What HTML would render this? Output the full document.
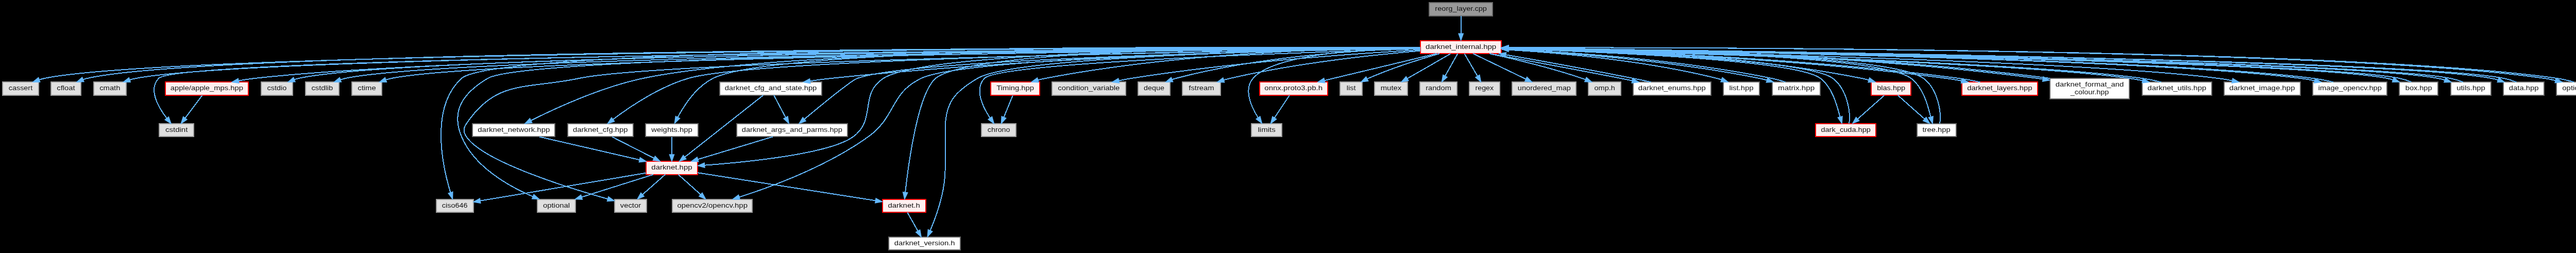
<!DOCTYPE html>
<html><head><meta charset="utf-8"><title>reorg_layer.cpp</title><style>
html,body{margin:0;padding:0;background:#000;width:5086px;height:491px;overflow:hidden}
svg{display:block;position:absolute;left:0;top:0;will-change:transform}
text{font-family:"Liberation Sans",sans-serif;font-size:10.25px;fill:#111;text-anchor:middle}
.e{fill:none;stroke:#63b8ff;stroke-width:1.5;shape-rendering:crispEdges}
.a{fill:#63b8ff;stroke:#63b8ff;stroke-width:1;shape-rendering:geometricPrecision}
polygon{stroke-width:1.5;shape-rendering:crispEdges}
</style></head><body>
<svg width="5086" height="491" viewBox="0 0 3814.50 368.25">
<g transform="translate(4 364)">
<polygon fill="#999999" stroke="#666666" points="2168.75,-360.00 2076.75,-360.00 2076.75,-341.00 2168.75,-341.00 2168.75,-360.00"/>
<text x="2122.75" y="-348" lengthAdjust="spacingAndGlyphs" textLength="75.49">reorg_layer.cpp</text>
<polygon fill="#fff0f0" stroke="red" points="2181.75,-305.00 2063.75,-305.00 2063.75,-286.00 2181.75,-286.00 2181.75,-305.00"/>
<text x="2122.75" y="-293" lengthAdjust="spacingAndGlyphs" textLength="102.87">darknet_internal.hpp</text>
<path class="e" d="M2122.75,-340.75C2122.75,-333.80 2122.75,-323.85 2122.75,-315.13"/>
<polygon class="a" points="2126.25,-315.09 2122.75,-305.09 2119.25,-315.09 2126.25,-315.09"/>
<polygon fill="#e0e0e0" stroke="#999999" points="52.00,-244.50 0.00,-244.50 0.00,-225.50 52.00,-225.50 52.00,-244.50"/>
<text x="26.00" y="-232.5" lengthAdjust="spacingAndGlyphs" textLength="34.73">cassert</text>
<path class="e" d="M2063.71,-294.48C1747.47,-294.23 261.47,-290.84 61.01,-250.00 58.49,-249.49 55.90,-248.80 53.35,-248.00"/>
<polygon class="a" points="54.38,-244.65 43.78,-244.54 52.00,-251.24 54.38,-244.65"/>
<polygon fill="#e0e0e0" stroke="#999999" points="114.00,-244.50 70.00,-244.50 70.00,-225.50 114.00,-225.50 114.00,-244.50"/>
<text x="92.00" y="-232.5" lengthAdjust="spacingAndGlyphs" textLength="26.46">cfloat</text>
<path class="e" d="M2063.68,-294.59C1753.05,-294.88 316.15,-293.83 123.01,-250.00 121.07,-249.56 119.09,-248.99 117.13,-248.34"/>
<polygon class="a" points="118.25,-245.02 107.66,-244.54 115.64,-251.51 118.25,-245.02"/>
<polygon fill="#e0e0e0" stroke="#999999" points="179.50,-244.50 132.50,-244.50 132.50,-225.50 179.50,-225.50 179.50,-244.50"/>
<text x="156.00" y="-232.5" lengthAdjust="spacingAndGlyphs" textLength="30.12">cmath</text>
<path class="e" d="M2063.34,-294.29C1758.90,-293.07 381.16,-285.60 194.01,-250.00 191.00,-249.43 187.91,-248.64 184.85,-247.74"/>
<polygon class="a" points="185.97,-244.42 175.37,-244.53 183.72,-251.05 185.97,-244.42"/>
<polygon fill="#e0e0e0" stroke="#999999" points="278.00,-184.00 228.00,-184.00 228.00,-165.00 278.00,-165.00 278.00,-184.00"/>
<text x="253.00" y="-172" lengthAdjust="spacingAndGlyphs" textLength="32.51">cstdint</text>
<path class="e" d="M2063.50,-294.24C1746.05,-292.69 259.92,-283.64 227.02,-250.00 211.51,-234.14 225.99,-208.57 238.74,-191.90"/>
<polygon class="a" points="241.49,-194.06 245.08,-184.09 236.06,-189.65 241.49,-194.06"/>
<polygon fill="#fff0f0" stroke="red" points="357.50,-244.50 236.50,-244.50 236.50,-225.50 357.50,-225.50 357.50,-244.50"/>
<text x="297.00" y="-232.5" lengthAdjust="spacingAndGlyphs" textLength="105.89">apple/apple_mps.hpp</text>
<path class="e" d="M2063.69,-294.37C1797.34,-293.56 706.60,-287.96 367.02,-250.00 359.39,-249.15 351.36,-247.89 343.56,-246.47"/>
<polygon class="a" points="343.99,-242.99 333.51,-244.54 342.66,-249.86 343.99,-242.99"/>
<polygon fill="#e0e0e0" stroke="#999999" points="422.00,-244.50 376.00,-244.50 376.00,-225.50 422.00,-225.50 422.00,-244.50"/>
<text x="399.00" y="-232.5" lengthAdjust="spacingAndGlyphs" textLength="28.37">cstdio</text>
<path class="e" d="M2063.34,-294.29C1782.19,-293.11 592.68,-286.03 431.01,-250.00 428.93,-249.54 426.82,-248.94 424.71,-248.24"/>
<polygon class="a" points="425.78,-244.90 415.20,-244.53 423.25,-251.42 425.78,-244.90"/>
<polygon fill="#e0e0e0" stroke="#999999" points="489.50,-244.50 440.50,-244.50 440.50,-225.50 489.50,-225.50 489.50,-244.50"/>
<text x="465.00" y="-232.5" lengthAdjust="spacingAndGlyphs" textLength="31.38">cstdlib</text>
<path class="e" d="M2063.48,-294.14C1789.65,-292.33 654.11,-282.88 499.01,-250.00 496.64,-249.50 494.22,-248.84 491.82,-248.07"/>
<polygon class="a" points="492.85,-244.71 482.26,-244.52 490.42,-251.29 492.85,-244.71"/>
<polygon fill="#e0e0e0" stroke="#999999" points="552.00,-244.50 508.00,-244.50 508.00,-225.50 552.00,-225.50 552.00,-244.50"/>
<text x="530.00" y="-232.5" lengthAdjust="spacingAndGlyphs" textLength="26.59">ctime</text>
<path class="e" d="M2063.74,-294.00C1797.43,-291.60 714.59,-280.06 566.01,-250.00 563.33,-249.46 560.59,-248.73 557.87,-247.90"/>
<polygon class="a" points="558.91,-244.56 548.32,-244.52 556.58,-251.15 558.91,-244.56"/>
<polygon fill="#e0e0e0" stroke="#999999" points="685.00,-74.00 631.00,-74.00 631.00,-55.00 685.00,-55.00 685.00,-74.00"/>
<text x="658.00" y="-62" lengthAdjust="spacingAndGlyphs" textLength="37.19">ciso646</text>
<path class="e" d="M2063.63,-294.80C1797.39,-295.89 720.78,-297.36 668.05,-250.00 621.13,-207.81 640.35,-121.61 651.79,-83.88"/>
<polygon class="a" points="655.17,-84.80 654.88,-74.21 648.51,-82.67 655.17,-84.80"/>
<polygon fill="#e0e0e0" stroke="#999999" points="834.00,-74.00 778.00,-74.00 778.00,-55.00 834.00,-55.00 834.00,-74.00"/>
<text x="806.00" y="-62" lengthAdjust="spacingAndGlyphs" textLength="39.03">optional</text>
<path class="e" d="M2063.37,-294.24C1802.04,-292.90 765.12,-285.34 706.05,-250.00 670.51,-228.73 651.99,-203.16 668.00,-165.00 686.51,-120.87 736.86,-92.75 771.34,-78.04"/>
<polygon class="a" points="773.11,-81.10 781.04,-74.08 770.46,-74.62 773.11,-81.10"/>
<polygon fill="#e0e0e0" stroke="#999999" points="937.50,-74.00 890.50,-74.00 890.50,-55.00 937.50,-55.00 937.50,-74.00"/>
<text x="914.00" y="-62" lengthAdjust="spacingAndGlyphs" textLength="30.22">vector</text>
<path class="e" d="M2063.72,-293.66C1827.75,-290.12 959.59,-275.49 839.07,-250.00 762.13,-233.73 719.01,-249.11 675.00,-184.00 670.27,-177.00 670.31,-172.03 675.00,-165.00 698.87,-129.21 820.68,-91.31 880.61,-74.47"/>
<polygon class="a" points="881.66,-77.81 890.36,-71.76 879.78,-71.06 881.66,-77.81"/>
<polygon fill="white" stroke="#666666" points="804.00,-184.00 684.00,-184.00 684.00,-165.00 804.00,-165.00 804.00,-184.00"/>
<text x="744.00" y="-172" lengthAdjust="spacingAndGlyphs" textLength="105.11">darknet_network.hpp</text>
<path class="e" d="M2063.59,-294.93C1854.56,-296.04 1151.77,-296.18 932.09,-250.00 871.12,-237.18 804.35,-206.38 769.09,-188.65"/>
<polygon class="a" points="770.51,-185.45 760.01,-184.03 767.33,-191.68 770.51,-185.45"/>
<polygon fill="white" stroke="#666666" points="917.50,-184.00 822.50,-184.00 822.50,-165.00 917.50,-165.00 917.50,-184.00"/>
<text x="870.00" y="-172" lengthAdjust="spacingAndGlyphs" textLength="79.87">darknet_cfg.hpp</text>
<path class="e" d="M2063.68,-293.83C1846.59,-291.14 1100.54,-279.81 998.07,-250.00 955.56,-237.63 912.34,-208.25 888.58,-190.30"/>
<polygon class="a" points="890.52,-187.38 880.46,-184.04 886.24,-192.92 890.52,-187.38"/>
<polygon fill="white" stroke="#666666" points="1012.00,-184.00 936.00,-184.00 936.00,-165.00 1012.00,-165.00 1012.00,-184.00"/>
<text x="974.00" y="-172" lengthAdjust="spacingAndGlyphs" textLength="59.64">weights.hpp</text>
<path class="e" d="M2063.66,-294.92C1850.08,-296.04 1126.12,-296.34 1034.05,-250.00 1010.00,-237.89 992.33,-211.27 982.61,-193.36"/>
<polygon class="a" points="985.72,-191.75 978.04,-184.45 979.49,-194.94 985.72,-191.75"/>
<polygon fill="white" stroke="#666666" points="1192.50,-244.50 1043.50,-244.50 1043.50,-225.50 1192.50,-225.50 1192.50,-244.50"/>
<text x="1118.00" y="-232.5" lengthAdjust="spacingAndGlyphs" textLength="134.01">darknet_cfg_and_state.hpp</text>
<path class="e" d="M2063.64,-293.86C1917.64,-291.80 1528.60,-283.36 1206.03,-250.00 1196.10,-248.97 1185.58,-247.57 1175.40,-246.06"/>
<polygon class="a" points="1175.80,-242.58 1165.38,-244.51 1174.72,-249.49 1175.80,-242.58"/>
<polygon fill="white" stroke="#666666" points="1229.50,-184.00 1068.50,-184.00 1068.50,-165.00 1229.50,-165.00 1229.50,-184.00"/>
<text x="1149.00" y="-172" lengthAdjust="spacingAndGlyphs" textLength="146.30">darknet_args_and_parms.hpp</text>
<path class="e" d="M2063.53,-293.57C1878.65,-290.38 1320.34,-278.48 1244.07,-250.00 1235.24,-246.70 1191.94,-211.33 1166.94,-190.53"/>
<polygon class="a" points="1169.16,-187.83 1159.24,-184.11 1164.68,-193.20 1169.16,-187.83"/>
<polygon fill="#fff0f0" stroke="red" points="1011.50,-129.00 936.50,-129.00 936.50,-110.00 1011.50,-110.00 1011.50,-129.00"/>
<text x="974.00" y="-117" lengthAdjust="spacingAndGlyphs" textLength="59.50">darknet.hpp</text>
<path class="e" d="M2063.56,-294.73C1882.92,-294.95 1347.36,-292.04 1282.06,-250.00 1246.26,-226.94 1272.37,-190.06 1238.00,-165.00 1204.36,-140.47 1088.50,-128.48 1021.98,-123.49"/>
<polygon class="a" points="1021.97,-119.98 1011.75,-122.75 1021.47,-126.96 1021.97,-119.98"/>
<polygon fill="#e0e0e0" stroke="#999999" points="1091.00,-74.00 975.00,-74.00 975.00,-55.00 1091.00,-55.00 1091.00,-74.00"/>
<text x="1033.00" y="-62" lengthAdjust="spacingAndGlyphs" textLength="102.42">opencv2/opencv.hpp</text>
<path class="e" d="M2063.62,-293.72C1891.99,-291.11 1402.07,-280.98 1337.08,-250.00 1291.01,-228.03 1301.37,-194.78 1260.00,-165.00 1200.50,-122.17 1119.65,-92.28 1072.22,-77.07"/>
<polygon class="a" points="1073.22,-73.72 1062.63,-74.05 1071.12,-80.39 1073.22,-73.72"/>
<polygon fill="#fff0f0" stroke="red" points="1343.50,-74.00 1280.50,-74.00 1280.50,-55.00 1343.50,-55.00 1343.50,-74.00"/>
<text x="1312.00" y="-62" lengthAdjust="spacingAndGlyphs" textLength="46.80">darknet.h</text>
<path class="e" d="M2063.72,-295.01C1893.75,-295.95 1412.06,-294.60 1358.07,-250.00 1332.39,-228.77 1318.60,-126.63 1313.88,-84.12"/>
<polygon class="a" points="1317.35,-83.62 1312.81,-74.04 1310.39,-84.36 1317.35,-83.62"/>
<polygon fill="white" stroke="#666666" points="1394.00,-19.00 1290.00,-19.00 1290.00,0.00 1394.00,0.00 1394.00,-19.00"/>
<text x="1342.00" y="-7" lengthAdjust="spacingAndGlyphs" textLength="88.43">darknet_version.h</text>
<path class="e" d="M2063.63,-293.82C1904.22,-291.55 1473.97,-282.45 1419.09,-250.00 1385.33,-230.02 1372.00,-214.65 1372.00,-175.50 1372.00,-175.50 1372.00,-175.50 1372.00,-118.50 1372.00,-85.87 1359.13,-49.65 1350.25,-28.55"/>
<polygon class="a" points="1353.39,-26.99 1346.17,-19.23 1346.98,-29.80 1353.39,-26.99"/>
<polygon fill="#e0e0e0" stroke="#999999" points="1475.00,-184.00 1425.00,-184.00 1425.00,-165.00 1475.00,-165.00 1475.00,-184.00"/>
<text x="1450.00" y="-172" lengthAdjust="spacingAndGlyphs" textLength="32.80">chrono</text>
<path class="e" d="M2063.71,-292.88C1899.93,-288.11 1450.68,-272.99 1429.05,-250.00 1414.26,-234.29 1426.22,-209.04 1437.21,-192.36"/>
<polygon class="a" points="1440.14,-194.28 1443.05,-184.09 1434.42,-190.24 1440.14,-194.28"/>
<polygon fill="#fff0f0" stroke="red" points="1509.50,-244.50 1438.50,-244.50 1438.50,-225.50 1509.50,-225.50 1509.50,-244.50"/>
<text x="1474.00" y="-232.5" lengthAdjust="spacingAndGlyphs" textLength="54.50">Timing.hpp</text>
<path class="e" d="M2063.42,-294.71C1954.34,-294.10 1715.25,-288.04 1518.03,-250.00 1514.53,-249.33 1510.93,-248.47 1507.35,-247.50"/>
<polygon class="a" points="1508.08,-244.07 1497.49,-244.59 1506.09,-250.78 1508.08,-244.07"/>
<polygon fill="#e0e0e0" stroke="#999999" points="1634.50,-244.50 1527.50,-244.50 1527.50,-225.50 1634.50,-225.50 1634.50,-244.50"/>
<text x="1581.00" y="-232.5" lengthAdjust="spacingAndGlyphs" textLength="90.08">condition_variable</text>
<path class="e" d="M2063.44,-291.47C1972.49,-286.26 1793.43,-273.82 1643.05,-250.00 1637.18,-249.07 1631.03,-247.91 1624.97,-246.66"/>
<polygon class="a" points="1625.48,-243.19 1614.97,-244.50 1624.00,-250.03 1625.48,-243.19"/>
<polygon fill="#e0e0e0" stroke="#999999" points="1699.50,-244.50 1652.50,-244.50 1652.50,-225.50 1699.50,-225.50 1699.50,-244.50"/>
<text x="1676.00" y="-232.5" lengthAdjust="spacingAndGlyphs" textLength="29.84">deque</text>
<path class="e" d="M2063.45,-293.77C1981.98,-291.51 1831.62,-282.77 1708.03,-250.00 1706.14,-249.50 1704.22,-248.90 1702.29,-248.24"/>
<polygon class="a" points="1703.52,-244.96 1692.93,-244.55 1700.95,-251.48 1703.52,-244.96"/>
<polygon fill="#e0e0e0" stroke="#999999" points="1772.50,-244.50 1717.50,-244.50 1717.50,-225.50 1772.50,-225.50 1772.50,-244.50"/>
<text x="1745.00" y="-232.5" lengthAdjust="spacingAndGlyphs" textLength="37.06">fstream</text>
<path class="e" d="M2063.74,-290.07C1996.18,-284.23 1882.64,-272.01 1787.05,-250.00 1783.99,-249.30 1780.84,-248.46 1777.71,-247.56"/>
<polygon class="a" points="1778.49,-244.14 1767.90,-244.50 1776.41,-250.82 1778.49,-244.14"/>
<polygon fill="#e0e0e0" stroke="#999999" points="1862.00,-184.00 1818.00,-184.00 1818.00,-165.00 1862.00,-165.00 1862.00,-184.00"/>
<text x="1840.00" y="-172" lengthAdjust="spacingAndGlyphs" textLength="25.70">limits</text>
<path class="e" d="M2063.65,-294.56C1984.65,-293.23 1851.10,-285.60 1820.11,-250.00 1806.25,-234.07 1816.92,-209.62 1827.21,-193.12"/>
<polygon class="a" points="1830.37,-194.70 1833.03,-184.44 1824.55,-190.79 1830.37,-194.70"/>
<polygon fill="#fff0f0" stroke="red" points="1928.50,-244.50 1829.50,-244.50 1829.50,-225.50 1928.50,-225.50 1928.50,-244.50"/>
<text x="1879.00" y="-232.5" lengthAdjust="spacingAndGlyphs" textLength="84.54">onnx.proto3.pb.h</text>
<path class="e" d="M2087.39,-285.99C2044.28,-275.66 1971.49,-258.21 1924.31,-246.90"/>
<polygon class="a" points="1924.95,-243.45 1914.41,-244.52 1923.31,-250.26 1924.95,-243.45"/>
<polygon fill="#e0e0e0" stroke="#999999" points="1979.00,-244.50 1947.00,-244.50 1947.00,-225.50 1979.00,-225.50 1979.00,-244.50"/>
<text x="1963.00" y="-232.5" lengthAdjust="spacingAndGlyphs" textLength="13.19">list</text>
<path class="e" d="M2091.48,-285.96C2063.76,-277.99 2022.50,-265.09 1988.07,-250.00 1987.52,-249.76 1986.95,-249.50 1986.39,-249.24"/>
<polygon class="a" points="1987.84,-246.05 1977.34,-244.62 1984.66,-252.28 1987.84,-246.05"/>
<polygon fill="#e0e0e0" stroke="#999999" points="2045.00,-244.50 1997.00,-244.50 1997.00,-225.50 2045.00,-225.50 2045.00,-244.50"/>
<text x="2021.00" y="-232.5" lengthAdjust="spacingAndGlyphs" textLength="30.40">mutex</text>
<path class="e" d="M2107.79,-285.87C2091.22,-276.36 2064.35,-260.95 2044.86,-249.77"/>
<polygon class="a" points="2046.43,-246.63 2036.02,-244.67 2042.93,-252.70 2046.43,-246.63"/>
<polygon fill="#e0e0e0" stroke="#999999" points="2117.00,-244.50 2063.00,-244.50 2063.00,-225.50 2117.00,-225.50 2117.00,-244.50"/>
<text x="2090.00" y="-232.5" lengthAdjust="spacingAndGlyphs" textLength="37.28">random</text>
<path class="e" d="M2117.93,-285.87C2113.18,-277.40 2105.80,-264.24 2099.81,-253.57"/>
<polygon class="a" points="2102.77,-251.69 2094.85,-244.67 2096.66,-255.11 2102.77,-251.69"/>
<polygon fill="#e0e0e0" stroke="#999999" points="2179.00,-244.50 2135.00,-244.50 2135.00,-225.50 2179.00,-225.50 2179.00,-244.50"/>
<text x="2157.00" y="-232.5" lengthAdjust="spacingAndGlyphs" textLength="26.79">regex</text>
<path class="e" d="M2127.81,-285.87C2132.76,-277.40 2140.45,-264.24 2146.69,-253.57"/>
<polygon class="a" points="2149.87,-255.07 2151.91,-244.67 2143.84,-251.51 2149.87,-255.07"/>
<polygon fill="#e0e0e0" stroke="#999999" points="2290.50,-244.50 2197.50,-244.50 2197.50,-225.50 2290.50,-225.50 2290.50,-244.50"/>
<text x="2244.00" y="-232.5" lengthAdjust="spacingAndGlyphs" textLength="77.34">unordered_map</text>
<path class="e" d="M2140.44,-285.99C2160.61,-276.25 2193.87,-260.16 2217.21,-248.88"/>
<polygon class="a" points="2218.80,-252.01 2226.29,-244.52 2215.76,-245.69 2218.80,-252.01"/>
<polygon fill="#e0e0e0" stroke="#999999" points="2355.50,-244.50 2308.50,-244.50 2308.50,-225.50 2355.50,-225.50 2355.50,-244.50"/>
<text x="2332.00" y="-232.5" lengthAdjust="spacingAndGlyphs" textLength="30.22">omp.h</text>
<path class="e" d="M2164.37,-285.94C2200.41,-278.05 2253.79,-265.27 2299.07,-250.00 2300.68,-249.46 2302.33,-248.87 2303.98,-248.25"/>
<polygon class="a" points="2305.39,-251.46 2313.38,-244.51 2302.79,-244.96 2305.39,-251.46"/>
<polygon fill="white" stroke="#666666" points="2486.50,-244.50 2373.50,-244.50 2373.50,-225.50 2486.50,-225.50 2486.50,-244.50"/>
<text x="2430.00" y="-232.5" lengthAdjust="spacingAndGlyphs" textLength="98.28">darknet_enums.hpp</text>
<path class="e" d="M2164.65,-285.94C2211.24,-277.25 2288.47,-263.23 2355.08,-250.00 2360.46,-248.93 2366.06,-247.79 2371.70,-246.63"/>
<polygon class="a" points="2372.75,-249.98 2381.85,-244.54 2371.35,-243.13 2372.75,-249.98"/>
<polygon fill="white" stroke="#666666" points="2557.50,-244.50 2504.50,-244.50 2504.50,-225.50 2557.50,-225.50 2557.50,-244.50"/>
<text x="2531.00" y="-232.5" lengthAdjust="spacingAndGlyphs" textLength="35.40">list.hpp</text>
<path class="e" d="M2182.04,-292.03C2256.17,-287.90 2386.64,-277.15 2495.04,-250.00 2497.34,-249.42 2499.69,-248.74 2502.03,-247.99"/>
<polygon class="a" points="2503.26,-251.27 2511.51,-244.62 2500.91,-244.67 2503.26,-251.27"/>
<polygon fill="white" stroke="#666666" points="2646.00,-244.50 2576.00,-244.50 2576.00,-225.50 2646.00,-225.50 2646.00,-244.50"/>
<text x="2611.00" y="-232.5" lengthAdjust="spacingAndGlyphs" textLength="53.31">matrix.hpp</text>
<path class="e" d="M2181.95,-292.07C2266.05,-287.90 2424.46,-277.03 2557.04,-250.00 2560.61,-249.27 2564.31,-248.37 2568.01,-247.38"/>
<polygon class="a" points="2569.13,-250.70 2577.80,-244.61 2567.23,-243.96 2569.13,-250.70"/>
<polygon fill="#fff0f0" stroke="red" points="2727.00,-184.00 2639.00,-184.00 2639.00,-165.00 2727.00,-165.00 2727.00,-184.00"/>
<text x="2683.00" y="-172" lengthAdjust="spacingAndGlyphs" textLength="72.40">dark_cuda.hpp</text>
<path class="e" d="M2181.94,-292.95C2311.13,-289.18 2609.54,-277.72 2646.09,-250.00 2663.56,-236.75 2670.08,-211.22 2674.69,-193.78"/>
<polygon class="a" points="2678.06,-194.71 2677.39,-184.14 2671.32,-192.83 2678.06,-194.71"/>
<polygon fill="#fff0f0" stroke="red" points="2778.00,-244.50 2720.00,-244.50 2720.00,-225.50 2778.00,-225.50 2778.00,-244.50"/>
<text x="2749.00" y="-232.5" lengthAdjust="spacingAndGlyphs" textLength="41.18">blas.hpp</text>
<path class="e" d="M2181.81,-294.63C2287.80,-293.84 2517.05,-287.46 2706.03,-250.00 2709.44,-249.32 2712.96,-248.46 2716.44,-247.50"/>
<polygon class="a" points="2717.51,-250.83 2726.07,-244.59 2715.49,-244.13 2717.51,-250.83"/>
<polygon fill="white" stroke="#666666" points="2843.50,-184.00 2786.50,-184.00 2786.50,-165.00 2843.50,-165.00 2843.50,-184.00"/>
<text x="2815.00" y="-172" lengthAdjust="spacingAndGlyphs" textLength="40.83">tree.hpp</text>
<path class="e" d="M2181.92,-294.11C2334.17,-292.61 2730.66,-285.33 2778.08,-250.00 2795.66,-236.90 2802.16,-211.33 2806.74,-193.84"/>
<polygon class="a" points="2810.12,-194.75 2809.41,-184.17 2803.37,-192.88 2810.12,-194.75"/>
<polygon fill="#fff0f0" stroke="red" points="2962.00,-244.50 2852.00,-244.50 2852.00,-225.50 2962.00,-225.50 2962.00,-244.50"/>
<text x="2907.00" y="-232.5" lengthAdjust="spacingAndGlyphs" textLength="94.80">darknet_layers.hpp</text>
<path class="e" d="M2182.11,-293.47C2303.89,-290.81 2590.38,-281.51 2829.04,-250.00 2836.28,-249.04 2843.89,-247.77 2851.43,-246.38"/>
<polygon class="a" points="2852.10,-249.82 2861.27,-244.50 2850.79,-242.94 2852.10,-249.82"/>
<polygon fill="white" stroke="#666666" points="3096.00,-250.00 2980.00,-250.00 2980.00,-220.00 3096.00,-220.00 3096.00,-250.00"/>
<text x="3038.00" y="-238" lengthAdjust="spacingAndGlyphs" textLength="99.47">darknet_format_and</text>
<text x="3038.00" y="-227" lengthAdjust="spacingAndGlyphs" textLength="55.76">_colour.hpp</text>
<path class="e" d="M2181.92,-294.49C2319.46,-293.75 2670.85,-287.86 2962.02,-250.00 2964.55,-249.67 2967.11,-249.30 2969.71,-248.90"/>
<polygon class="a" points="2970.55,-252.31 2979.82,-247.19 2969.38,-245.41 2970.55,-252.31"/>
<polygon fill="white" stroke="#666666" points="3215.50,-244.50 3114.50,-244.50 3114.50,-225.50 3215.50,-225.50 3215.50,-244.50"/>
<text x="3165.00" y="-232.5" lengthAdjust="spacingAndGlyphs" textLength="85.53">darknet_utils.hpp</text>
<path class="e" d="M2182.03,-293.16C2364.75,-288.93 2917.43,-274.69 3096.02,-250.00 3102.14,-249.15 3108.54,-247.98 3114.91,-246.66"/>
<polygon class="a" points="3115.79,-250.05 3124.82,-244.51 3114.30,-243.21 3115.79,-250.05"/>
<polygon fill="white" stroke="#666666" points="3344.50,-244.50 3233.50,-244.50 3233.50,-225.50 3344.50,-225.50 3344.50,-244.50"/>
<text x="3289.00" y="-232.5" lengthAdjust="spacingAndGlyphs" textLength="95.65">darknet_image.hpp</text>
<path class="e" d="M2181.80,-293.48C2379.94,-289.85 3020.48,-276.31 3225.02,-250.00 3231.69,-249.14 3238.68,-247.93 3245.51,-246.58"/>
<polygon class="a" points="3246.25,-250.00 3255.32,-244.53 3244.82,-243.15 3246.25,-250.00"/>
<polygon fill="white" stroke="#666666" points="3471.00,-244.50 3363.00,-244.50 3363.00,-225.50 3471.00,-225.50 3471.00,-244.50"/>
<text x="3417.00" y="-232.5" lengthAdjust="spacingAndGlyphs" textLength="92.46">image_opencv.hpp</text>
<path class="e" d="M2182.09,-293.75C2394.39,-290.90 3115.49,-279.42 3345.02,-250.00 3351.59,-249.16 3358.48,-247.96 3365.31,-246.61"/>
<polygon class="a" points="3366.13,-250.01 3375.22,-244.56 3364.71,-243.16 3366.13,-250.01"/>
<polygon fill="white" stroke="#666666" points="3545.00,-244.50 3489.00,-244.50 3489.00,-225.50 3545.00,-225.50 3545.00,-244.50"/>
<text x="3517.00" y="-232.5" lengthAdjust="spacingAndGlyphs" textLength="38.79">box.hpp</text>
<path class="e" d="M2182.00,-293.66C2425.65,-290.13 3343.37,-275.53 3471.01,-250.00 3473.79,-249.44 3476.63,-248.71 3479.48,-247.85"/>
<polygon class="a" points="3480.75,-251.11 3489.13,-244.64 3478.54,-244.47 3480.75,-251.11"/>
<polygon fill="white" stroke="#666666" points="3622.50,-244.50 3563.50,-244.50 3563.50,-225.50 3622.50,-225.50 3622.50,-244.50"/>
<text x="3593.00" y="-232.5" lengthAdjust="spacingAndGlyphs" textLength="41.74">utils.hpp</text>
<path class="e" d="M2181.94,-293.71C2433.81,-290.30 3409.55,-275.77 3545.01,-250.00 3548.19,-249.40 3551.46,-248.57 3554.73,-247.62"/>
<polygon class="a" points="3556.03,-250.88 3564.49,-244.50 3553.89,-244.21 3556.03,-250.88"/>
<polygon fill="white" stroke="#666666" points="3699.50,-244.50 3640.50,-244.50 3640.50,-225.50 3699.50,-225.50 3699.50,-244.50"/>
<text x="3670.00" y="-232.5" lengthAdjust="spacingAndGlyphs" textLength="43.24">data.hpp</text>
<path class="e" d="M2181.79,-293.85C2441.98,-290.92 3479.62,-277.77 3623.01,-250.00 3626.12,-249.40 3629.30,-248.58 3632.49,-247.63"/>
<polygon class="a" points="3633.60,-250.95 3642.01,-244.51 3631.42,-244.30 3633.60,-250.95"/>
<polygon fill="white" stroke="#666666" points="3806.50,-244.50 3717.50,-244.50 3717.50,-225.50 3806.50,-225.50 3806.50,-244.50"/>
<text x="3762.00" y="-232.5" lengthAdjust="spacingAndGlyphs" textLength="72.02">option_list.hpp</text>
<path class="e" d="M2181.82,-294.67C2431.12,-295.05 3398.03,-293.55 3700.01,-250.00 3705.12,-249.26 3710.44,-248.21 3715.73,-247.01"/>
<polygon class="a" points="3716.95,-250.32 3725.84,-244.56 3715.30,-243.51 3716.95,-250.32"/>
<path class="e" d="M290.51,-225.37C284.01,-216.73 273.84,-203.2 265.72,-192.42"/>
<polygon class="a" points="268.33,-190.06 259.52,-184.17 262.73,-194.26 268.33,-190.06"/>
<path class="e" d="M780.95,-164.98C820.57,-155.86 883.59,-141.33 926.77,-131.38"/>
<polygon class="a" points="927.8,-134.74 936.76,-129.08 926.23,-127.92 927.8,-134.74"/>
<path class="e" d="M886.71,-164.98C903.21,-156.57 928.7,-143.59 947.88,-133.81"/>
<polygon class="a" points="949.67,-136.83 956.99,-129.17 946.49,-130.59 949.67,-136.83"/>
<path class="e" d="M974,-164.75C974,-157.8 974,-147.85 974,-139.13"/>
<polygon class="a" points="977.5,-139.09 974,-129.09 970.5,-139.09 977.5,-139.09"/>
<path class="e" d="M1122.57,-225.37C1127.06,-216.9 1134.03,-203.74 1139.69,-193.07"/>
<polygon class="a" points="1142.82,-194.64 1144.41,-184.17 1136.63,-191.36 1142.82,-194.64"/>
<path class="e" d="M1107.18,-225.47C1082.89,-206.32 1023.78,-159.73 993.13,-135.58"/>
<polygon class="a" points="994.97,-132.57 984.95,-129.13 990.64,-138.07 994.97,-132.57"/>
<path class="e" d="M1120.88,-164.98C1091.38,-156.05 1044.81,-141.94 1012.03,-132.02"/>
<polygon class="a" points="1012.92,-128.63 1002.34,-129.08 1010.89,-135.33 1012.92,-128.63"/>
<path class="e" d="M936.2,-112.16C875.18,-101.93 755.72,-81.89 695.13,-71.73"/>
<polygon class="a" points="695.67,-68.27 685.23,-70.07 694.52,-75.17 695.67,-68.27"/>
<path class="e" d="M947.01,-109.98C918.8,-101.09 874.36,-87.07 842.92,-77.15"/>
<polygon class="a" points="843.79,-73.75 833.2,-74.08 841.69,-80.43 843.79,-73.75"/>
<path class="e" d="M964.36,-109.98C955.49,-102.15 942.13,-90.34 931.39,-80.86"/>
<polygon class="a" points="933.63,-78.17 923.82,-74.17 928.99,-83.41 933.63,-78.17"/>
<path class="e" d="M983.48,-109.98C992.2,-102.15 1005.34,-90.34 1015.9,-80.86"/>
<polygon class="a" points="1018.25,-83.46 1023.35,-74.17 1013.57,-78.25 1018.25,-83.46"/>
<path class="e" d="M1011.79,-112.57C1075.56,-102.57 1204.06,-82.43 1270.35,-72.03"/>
<polygon class="a" points="1271.09,-75.46 1280.43,-70.45 1270.01,-68.54 1271.09,-75.46"/>
<path class="e" d="M1316.95,-54.75C1321.06,-47.49 1327.03,-36.95 1332.1,-27.98"/>
<polygon class="a" points="1335.26,-29.52 1337.14,-19.09 1329.17,-26.07 1335.26,-29.52"/>
<path class="e" d="M1470.46,-225.37C1467.06,-217.07 1461.81,-204.28 1457.48,-193.72"/>
<polygon class="a" points="1460.59,-192.09 1453.56,-184.17 1454.11,-194.75 1460.59,-192.09"/>
<path class="e" d="M1873.25,-225.37C1867.54,-216.81 1858.65,-203.47 1851.49,-192.74"/>
<polygon class="a" points="1854.24,-190.55 1845.78,-184.17 1848.41,-194.43 1854.24,-190.55"/>
<path class="e" d="M2399.39,-244.54C2390.90,-246.39 2381.70,-248.29 2373.11,-250.00 2310.66,-262.40 2238.87,-275.50 2188.17,-284.25"/>
<polygon class="a" points="2187.56,-280.80 2178.30,-285.94 2188.74,-287.70 2187.56,-280.80"/>
<path class="e" d="M2595.17,-244.61C2588.92,-246.65 2581.77,-248.63 2575.06,-250.00 2441.37,-277.26 2281.41,-288.08 2191.97,-292.18"/>
<polygon class="a" points="2191.77,-288.69 2181.94,-292.62 2192.07,-295.68 2191.77,-288.69"/>
<path class="e" d="M2687.80,-184.14C2690.33,-200.09 2685.16,-234.00 2664.07,-250.00 2627.57,-277.69 2329.72,-289.16 2192.03,-292.94"/>
<polygon class="a" points="2191.89,-289.44 2181.99,-293.21 2192.08,-296.44 2191.89,-289.44"/>
<path class="e" d="M2739.26,-225.37C2729.03,-216.3 2712.71,-201.84 2700.28,-190.82"/>
<polygon class="a" points="2702.58,-188.18 2692.78,-184.17 2697.94,-193.42 2702.58,-188.18"/>
<path class="e" d="M2758.74,-225.37C2768.97,-216.3 2785.29,-201.84 2797.72,-190.82"/>
<polygon class="a" points="2800.06,-193.42 2805.22,-184.17 2795.42,-188.18 2800.06,-193.42"/>
<path class="e" d="M2819.82,-184.17C2822.40,-200.18 2817.29,-234.18 2796.06,-250.00 2748.79,-285.22 2354.51,-292.57 2192.16,-294.10"/>
<polygon class="a" points="2191.76,-290.60 2181.80,-294.19 2191.83,-297.60 2191.76,-290.60"/>
<path class="e" d="M2878.59,-244.50C2868.65,-246.59 2857.45,-248.63 2847.05,-250.00 2608.38,-281.51 2321.85,-290.81 2192.31,-293.47"/>
<polygon class="a" points="2192.06,-289.97 2182.13,-293.67 2192.20,-296.97 2192.06,-289.97"/>
<path class="e" d="M2980.36,-249.95C2980.25,-249.97 2980.13,-249.98 2980.01,-250.00 2689.24,-287.81 2338.41,-293.73 2192.05,-294.49"/>
<polygon class="a" points="2191.85,-290.99 2181.86,-294.54 2191.88,-297.99 2191.85,-290.99"/>
<path class="e" d="M3142.09,-244.51C3133.34,-246.66 3123.34,-248.71 3114.03,-250.00 2936.08,-274.60 2386.74,-288.83 2192.03,-293.11"/>
<polygon class="a" points="2191.84,-289.62 2181.92,-293.33 2191.99,-296.61 2191.84,-289.62"/>
<path class="e" d="M3392.49,-244.56C3383.29,-246.70 3372.80,-248.75 3363.03,-250.00 3134.50,-279.29 2418.62,-290.80 2192.15,-293.71"/>
<polygon class="a" points="2192.00,-290.21 2182.05,-293.84 2192.09,-297.21 2192.00,-290.21"/>
<path class="e" d="M3506.40,-244.64C3501.16,-246.79 3494.94,-248.82 3489.02,-250.00 3361.98,-275.40 2452.45,-289.99 2192.16,-293.61"/>
<polygon class="a" points="2192.03,-290.11 2182.08,-293.75 2192.12,-297.11 2192.03,-290.11"/>
<path class="e" d="M3581.70,-244.50C3576.08,-246.70 3569.37,-248.79 3563.02,-250.00 3428.22,-275.64 2461.37,-290.15 2192.15,-293.66"/>
<polygon class="a" points="2192.06,-290.16 2182.11,-293.79 2192.16,-297.16 2192.06,-290.16"/>
<path class="e" d="M3659.23,-244.51C3653.76,-246.71 3647.22,-248.80 3641.02,-250.00 3498.42,-277.62 2471.36,-290.77 2192.47,-293.80"/>
<polygon class="a" points="2192.04,-290.30 2182.08,-293.92 2192.11,-297.30 2192.04,-290.30"/>
<path class="e" d="M3743.09,-244.56C3735.35,-246.73 3726.39,-248.79 3718.02,-250.00 3417.67,-293.31 2459.52,-295.03 2192.44,-294.67"/>
<polygon class="a" points="2192.11,-291.17 2182.10,-294.66 2192.10,-298.17 2192.11,-291.17"/>
</g></svg>
</body></html>
